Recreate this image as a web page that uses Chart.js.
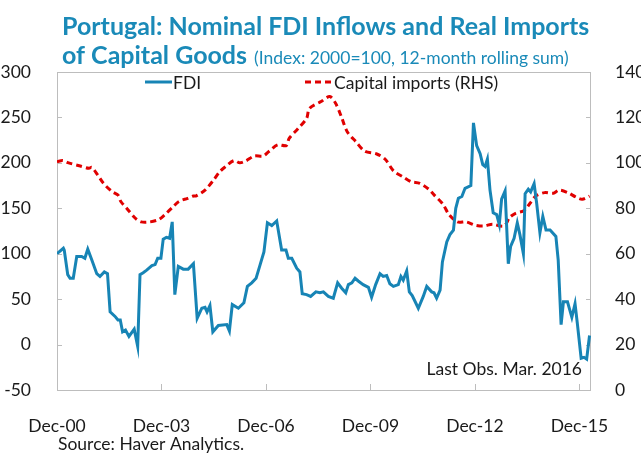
<!DOCTYPE html>
<html>
<head>
<meta charset="utf-8">
<script src="https://cdn.jsdelivr.net/npm/chart.js@4"></script>
<style>
  html, body { margin: 0; padding: 0; background: #fff; }
  #wrap { width: 641px; height: 453px; }
</style>
</head>
<body>
<div id="wrap"><canvas id="c" width="641" height="453"></canvas></div>
<script>
// months counted from Dec-2000
const xTickMonths = [0, 36, 72, 108, 144, 180];
const xTickLabels = ["Dec-00", "Dec-03", "Dec-06", "Dec-09", "Dec-12", "Dec-15"];

const fdiMonth = [0, 2.2, 2.5, 3.7, 4.5, 5.6, 6.8, 8.5, 9.6, 10.6, 12, 13.7, 14.8, 16.3, 17.4, 18.3, 20, 21, 21.8, 22.6,
  23.6, 24.8, 26.6, 27.8, 28.6, 29.7, 30.9, 32.7, 33.8, 34.7, 35.8, 36.6, 37.7, 38.8, 39.7, 40.6, 41.8, 43.5, 45.2, 47,
  48.3, 49.9, 51, 51.7, 52.7, 53.7, 55.6, 58.5, 59.4, 60.4, 62.5, 64.4, 65.6, 67.1, 68.6, 70, 71.3, 72.5, 74, 75.7,
  77.4, 78.9, 79.7, 80.9, 82.6, 83.7, 84.5, 86, 87.4, 89.2, 90.6, 91.8, 93.5, 95.2, 96.7, 98.1, 99.5, 100.4, 101.6, 102.7,
  103.8, 105.5, 107.3, 108.4, 109.8, 111.3, 112.4, 113.6, 114.7, 115.9, 117.6, 118.5, 119.3, 120.5, 121.4, 122.4, 124.5, 126.2, 127.4, 129.1,
  129.9, 130.8, 132, 132.8, 134.3, 135.4, 136.6, 137.4, 138.3, 139.5, 140.6, 142.6, 143.5, 144.6, 145.8, 146.7, 147.5, 148.3, 149.2, 150.3,
  151.5, 152.4, 153.2, 154.4, 155.5, 156.3, 157.5, 158.6, 159.5, 160.7, 161.3, 162.4, 163.2, 164.4, 165.3, 166.4, 167.4, 168.5, 169.9, 171.9,
  172.7, 173.7, 174.5, 175.9, 177.4, 178.5, 179.3, 180.6, 181.6, 182.5, 183.5];
const fdiValue = [100, 106, 104, 77, 73, 73, 97, 97, 95, 105, 93, 78, 75, 80, 78, 36, 31, 27, 27, 14,
  16, 9, 17, -2, 77, 79, 82, 87, 88, 95, 95, 116, 118, 117, 135, 55, 86, 83, 83, 89,
  29, 40, 41, 36, 43, 14, 21, 22, 15, 44, 40, 46, 64, 68, 73, 88, 102, 134, 131, 136,
  104, 104, 95, 95, 84, 80, 56, 55, 53, 58, 57, 58, 53, 51, 68, 62, 57, 66, 68, 73,
  70, 66, 63, 52, 66, 78, 75, 76, 67, 64, 66, 75, 71, 81, 58, 54, 40, 53, 64, 58,
  57, 51, 60, 91, 113, 121, 126, 150, 161, 163, 172, 175, 244, 219, 210, 198, 196, 204, 170, 145,
  143, 132, 160, 169, 89, 108, 117, 134, 121, 100, 166, 171, 168, 177, 155, 123, 141, 126, 126, 119,
  93, 22, 47, 47, 30, 45, 23, -15, -14, -16, 10];

const impMonth = [0, 2, 4, 8, 11, 12, 14, 16, 19, 21, 22, 24, 27, 29, 32, 35, 37, 40, 42, 45,
  47, 48, 51, 54, 56, 58, 61, 63, 65, 68, 71, 73, 76, 79, 80, 83, 86, 87, 91, 94,
  96, 98, 100, 103, 106, 110, 113, 116, 119, 122, 125, 128, 130, 133, 135, 138, 141, 144, 147, 150,
  154, 156, 158, 161, 163, 165, 168, 171, 173, 176, 179, 181, 183.5];
const impValue = [100.5, 101, 100, 98.6, 97.6, 98, 94.7, 91, 87.3, 85.8, 83, 80, 75.6, 74, 74, 75, 77, 80.7, 83, 84.4,
  85.4, 85.5, 88, 92.5, 96, 98.3, 101, 100, 100.8, 103, 103, 105, 107.9, 107.6, 110.8, 115, 119.6, 124, 127, 129.2,
  126.2, 120.3, 113.7, 109.3, 105.2, 104, 101.7, 96.4, 94, 91.7, 91, 88.5, 85.8, 81.8, 77.4, 74, 74, 72.6, 72.2, 73,
  72.2, 76, 77.8, 79, 82.2, 85.4, 86.9, 86.6, 88, 86.9, 84.8, 84, 85.4];

const BLUE = "#1784b5";
const RED = "#e00000";
const TITLE = "#1a8ab8";
const FONT = "Lato";
const SMALL = 17.5;

const decor = {
  id: "decor",
  beforeDatasetsDraw(chart) {
    const { ctx, chartArea: a, scales } = chart;
    ctx.save();
    ctx.strokeStyle = "#bdbdbd";
    ctx.lineWidth = 1;
    ctx.strokeRect(a.left + 0.5, a.top + 0.5, a.right - a.left - 1, a.bottom - a.top);
    ctx.beginPath();
    scales.y.ticks.forEach(t => {
      const y = Math.round(scales.y.getPixelForValue(t.value)) + 0.5;
      ctx.moveTo(a.left, y); ctx.lineTo(a.left + 5, y);
    });
    scales.y1.ticks.forEach(t => {
      const y = Math.round(scales.y1.getPixelForValue(t.value)) + 0.5;
      ctx.moveTo(a.right, y); ctx.lineTo(a.right - 5, y);
    });
    scales.x.ticks.forEach(t => {
      const x = Math.round(scales.x.getPixelForValue(t.value)) + 0.5;
      ctx.moveTo(x, a.bottom); ctx.lineTo(x, a.bottom - 6);
    });
    ctx.stroke();
    ctx.restore();
  },
  afterDraw(chart) {
    const { ctx } = chart;
    ctx.save();
    ctx.textBaseline = "alphabetic";
    ctx.fillStyle = TITLE;
    ctx.font = "bold 25px " + FONT;
    ctx.fillText("Portugal: Nominal FDI Inflows and Real Imports", 62, 35);
    ctx.fillText("of Capital Goods", 62, 64);
    const w = ctx.measureText("of Capital Goods ").width;
    ctx.font = SMALL + "px " + FONT;
    ctx.fillText("(Index: 2000=100, 12-month rolling sum)", 63 + w, 64);

    // legend
    ctx.lineWidth = 3;
    ctx.strokeStyle = BLUE;
    ctx.beginPath(); ctx.moveTo(145, 82); ctx.lineTo(172, 82); ctx.stroke();
    ctx.strokeStyle = RED;
    ctx.setLineDash([6, 4]);
    ctx.beginPath(); ctx.moveTo(305, 82); ctx.lineTo(333, 82); ctx.stroke();
    ctx.setLineDash([]);
    ctx.fillStyle = "#1a1a1a";
    ctx.textBaseline = "middle";
    ctx.fillText("FDI", 173, 83);
    ctx.fillText("Capital imports (RHS)", 334, 83);

    ctx.textAlign = "right";
    ctx.fillText("Last Obs. Mar. 2016", 582, 369);
    ctx.textAlign = "left";
    ctx.fillText("Source: Haver Analytics.", 58, 444);
    ctx.restore();
  }
};

new Chart(document.getElementById("c"), {
  type: "line",
  data: {
    datasets: [
      {
        label: "FDI",
        data: fdiMonth.map((m, i) => ({ x: m, y: fdiValue[i] })),
        borderColor: BLUE,
        borderWidth: 3,
        pointRadius: 0,
        tension: 0,
        yAxisID: "y"
      },
      {
        label: "Capital imports (RHS)",
        data: impMonth.map((m, i) => ({ x: m, y: impValue[i] })),
        borderColor: RED,
        borderWidth: 3,
        borderDash: [6, 4],
        pointRadius: 0,
        tension: 0.3,
        yAxisID: "y1"
      }
    ]
  },
  options: {
    responsive: false,
    animation: false,
    layout: { padding: { top: 72, left: 0, right: 0, bottom: 0 } },
    plugins: { legend: { display: false }, title: { display: false }, tooltip: { enabled: false } },
    scales: {
      x: {
        type: "linear",
        min: 0,
        max: 184,
        afterBuildTicks: s => { s.ticks = xTickMonths.map(v => ({ value: v })); },
        afterFit: s => { s.height = 63; },
        grid: { display: false },
        border: { display: false },
        ticks: {
          padding: 18,
          maxRotation: 0,
          autoSkip: false,
          color: "#1a1a1a",
          font: { family: FONT, size: SMALL },
          callback: v => xTickLabels[xTickMonths.indexOf(v)]
        }
      },
      y: {
        position: "left",
        min: -50,
        max: 300,
        afterFit: s => { s.width = 57; },
        grid: { display: false },
        border: { display: false },
        ticks: { stepSize: 50, padding: 18, color: "#1a1a1a", font: { family: FONT, size: SMALL } }
      },
      y1: {
        position: "right",
        min: 0,
        max: 140,
        afterFit: s => { s.width = 50; },
        grid: { display: false },
        border: { display: false },
        ticks: { stepSize: 20, padding: 16, color: "#1a1a1a", font: { family: FONT, size: SMALL } }
      }
    }
  },
  plugins: [decor]
});
</script>
</body>
</html>
